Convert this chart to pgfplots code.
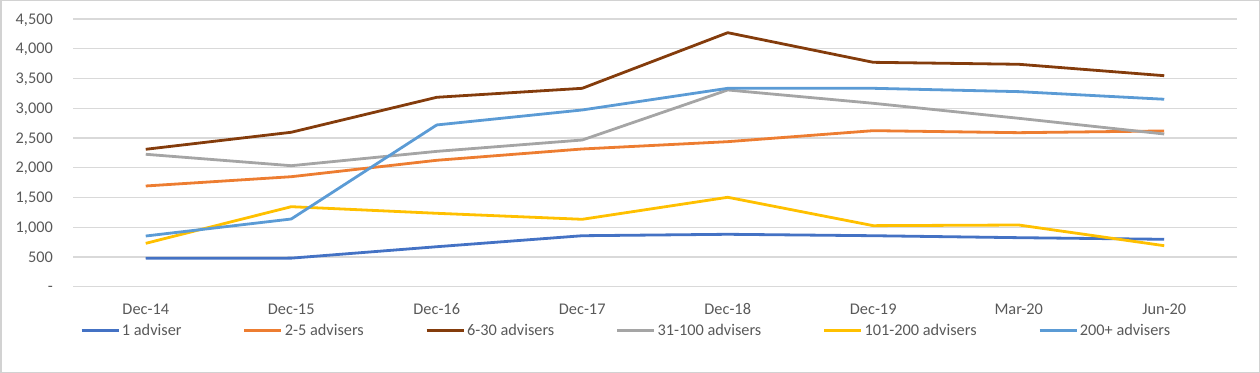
\documentclass[border=0pt]{standalone}
\usepackage{fontspec}
\setmainfont{Carlito}
\usepackage{pgfplots}
\pgfplotsset{compat=1.18}
\definecolor{cA}{HTML}{4472C4}
\definecolor{cB}{HTML}{ED7D31}
\definecolor{cC}{HTML}{843C0C}
\definecolor{cD}{HTML}{A5A5A5}
\definecolor{cE}{HTML}{FFC000}
\definecolor{cF}{HTML}{5B9BD5}
\definecolor{tickc}{HTML}{595959}
\definecolor{gridc}{HTML}{D9D9D9}
\begin{document}
\begin{tikzpicture}
\path[use as bounding box] (0bp,0bp) rectangle (1260bp,373bp);
\draw[color=gray!35, line width=1.5bp] (0.75bp,0.75bp) rectangle (1259.25bp,372.25bp);
\begin{axis}[
  at={(73bp,86.3bp)}, anchor=south west,
  scale only axis, width=1164bp, height=267.7bp,
  xmin=-0.5, xmax=7.5, ymin=0, ymax=4500,
  xtick={0,...,7},
  xticklabels={Dec-14,Dec-15,Dec-16,Dec-17,Dec-18,Dec-19,Mar-20,Jun-20},
  ytick={0,500,1000,1500,2000,2500,3000,3500,4000,4500},
  yticklabels={{-\hspace{8bp}},500,{1,000},{1,500},{2,000},{2,500},{3,000},{3,500},{4,000},{4,500}},
  axis line style={draw=none}, major tick length=0pt,
  ymajorgrids, grid style={color=gridc, line width=1.3bp},
  font=\fontsize{16.3bp}{19bp}\selectfont,
  ticklabel style={text=tickc, inner sep=0pt},
  yticklabel style={anchor=base east, xshift=-20bp, yshift=-5.2bp},
  xticklabel style={anchor=base, yshift=-27.6bp},
  legend columns=6,
  legend style={at={(axis description cs:0.006,-0.164)}, anchor=west, draw=none, fill=none,
    inner sep=0pt, font=\fontsize{16.3bp}{19bp}\selectfont, text=tickc,
    nodes={inner sep=2bp},
    /tikz/every even column/.append style={column sep=59.5bp}},
  legend image code/.code={\draw[#1] (0bp,0bp) -- (37bp,0bp);},
  every axis plot/.append style={line width=2.8bp, line join=round, mark=none},
]
\addplot[color=cA] coordinates {(0,477) (1,480) (2,672) (3,857) (4,881) (5,857) (6,824) (7,797)};
\addlegendentry{1 adviser}
\addplot[color=cB] coordinates {(0,1693) (1,1849) (2,2125) (3,2315) (4,2438) (5,2623) (6,2589) (7,2618)};
\addlegendentry{2-5 advisers}
\addplot[color=cC] coordinates {(0,2310) (1,2596) (2,3184) (3,3335) (4,4270) (5,3772) (6,3739) (7,3547)};
\addlegendentry{6-30 advisers}
\addplot[color=cD] coordinates {(0,2226) (1,2034) (2,2275) (3,2466) (4,3307) (5,3083) (6,2831) (7,2567)};
\addlegendentry{31-100 advisers}
\addplot[color=cE] coordinates {(0,729) (1,1345) (2,1234) (3,1133) (4,1503) (5,1026) (6,1037) (7,689)};
\addlegendentry{101-200 advisers}
\addplot[color=cF] coordinates {(0,852) (1,1138) (2,2719) (3,2971) (4,3335) (5,3335) (6,3279) (7,3151)};
\addlegendentry{200+ advisers}
\end{axis}
\end{tikzpicture}
\end{document}
